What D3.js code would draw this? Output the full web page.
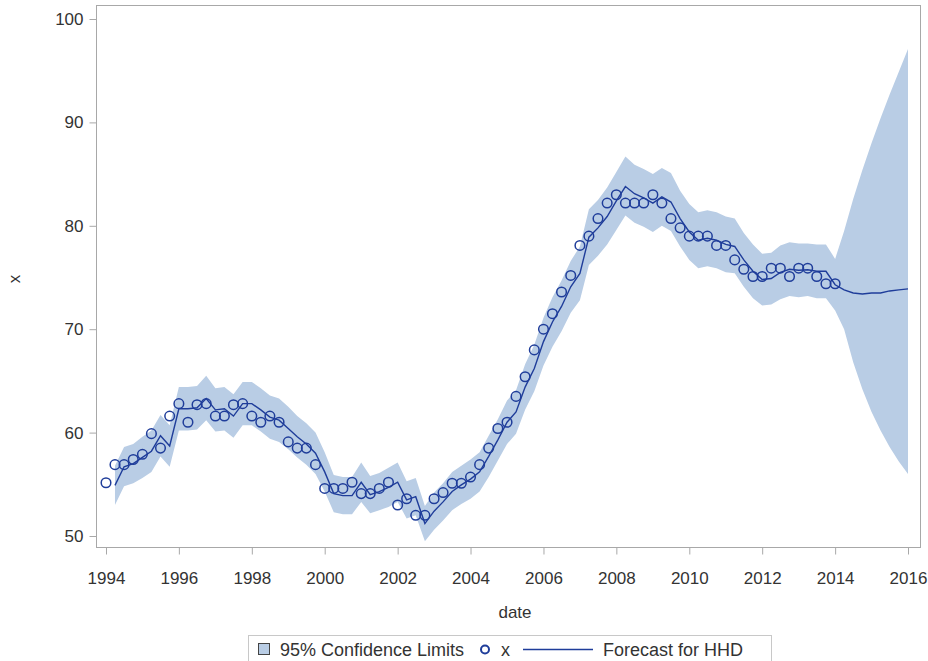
<!DOCTYPE html>
<html>
<head>
<meta charset="utf-8">
<script src="https://cdn.jsdelivr.net/npm/d3@7"></script>
<style>
  body { margin: 0; background: #fff; }
  text { font-family: "Liberation Sans", Arial, sans-serif; fill: #333; }
</style>
</head>
<body>
<svg id="chart" width="928" height="661"></svg>
<script>
// observed values, quarterly from 1994 Q1 to 2014 Q1
var actual = [
  55.15, 56.9, 56.9, 57.4, 57.9, 59.9, 58.5, 61.6, 62.8, 61.0,
  62.7, 62.8, 61.6, 61.6, 62.7, 62.8, 61.6, 61.0, 61.6, 61.0,
  59.1, 58.5, 58.5, 56.9, 54.6, 54.6, 54.6, 55.2, 54.1, 54.1,
  54.6, 55.2, 53.0, 53.6, 52.0, 52.0, 53.6, 54.2, 55.1, 55.1,
  55.7, 56.9, 58.5, 60.4, 61.0, 63.5, 65.4, 68.0, 70.0, 71.5,
  73.6, 75.2, 78.1, 79.0, 80.7, 82.2, 83.0, 82.2, 82.2, 82.2,
  83.0, 82.2, 80.7, 79.8, 79.0, 79.0, 79.0, 78.1, 78.1, 76.7,
  75.8, 75.1, 75.1, 75.9, 75.9, 75.1, 75.9, 75.9, 75.1, 74.4,
  74.4
];

// one-step forecast, 1994 Q2 to 2016 Q1
var forecast = [
  54.9, 56.7, 57.0, 57.6, 58.2, 59.7, 58.7, 62.3, 62.3, 62.4,
  63.3, 62.2, 62.3, 61.6, 62.8, 62.8, 62.2, 61.5, 61.2, 60.4,
  59.6, 58.9, 58.0, 56.2, 54.1, 53.9, 53.9, 55.2, 54.0, 54.3,
  54.7, 55.2, 53.5, 53.8, 51.2, 52.4, 53.3, 54.3, 54.95, 55.5,
  56.2, 57.7, 59.3, 61.0, 62.0, 64.4, 66.2, 68.8, 70.7, 72.2,
  74.1, 75.4, 78.9, 79.8, 80.9, 82.4, 83.8, 83.1, 82.7, 82.2,
  82.8, 82.3, 80.7, 79.4, 78.6, 78.8, 78.6, 78.2, 78.0, 76.7,
  75.6, 74.8, 74.9, 75.5, 75.8, 75.7, 75.75, 75.6, 75.6, 74.3,
  73.8, 73.5, 73.4, 73.5, 73.5, 73.7, 73.8, 73.9
];

// 95% limits, same dates as forecast
var upper = [
  56.8, 58.6, 58.9, 59.6, 60.2, 61.7, 60.7, 64.4, 64.4, 64.5,
  65.5, 64.3, 64.4, 63.7, 64.9, 64.9, 64.3, 63.6, 63.3, 62.5,
  61.6, 60.9, 60.0, 58.1, 55.9, 55.7, 55.7, 57.1, 55.8, 56.1,
  56.6, 57.1, 55.3, 55.6, 52.9, 54.2, 55.1, 56.2, 56.8, 57.4,
  58.1, 59.7, 61.3, 63.1, 64.1, 66.6, 68.5, 71.1, 73.1, 74.7,
  76.6, 78.0, 81.6, 82.5, 83.7, 85.2, 86.7, 85.9, 85.5, 85.0,
  85.6, 85.1, 83.4, 82.1, 81.3, 81.5, 81.3, 80.9, 80.7, 79.3,
  78.2, 77.3, 77.4, 78.1, 78.4, 78.3, 78.3, 78.2, 78.2, 76.8,
  79.5, 82.6, 85.4, 88.0, 90.4, 92.7, 94.9, 97.1
];
var lower = [
  53.0, 54.8, 55.1, 55.6, 56.2, 57.7, 56.7, 60.2, 60.2, 60.3,
  61.2, 60.1, 60.2, 59.5, 60.7, 60.7, 60.1, 59.4, 59.1, 58.4,
  57.6, 56.9, 56.0, 54.3, 52.3, 52.1, 52.1, 53.3, 52.2, 52.5,
  52.8, 53.3, 51.7, 52.0, 49.5, 50.6, 51.5, 52.5, 53.1, 53.6,
  54.3, 55.7, 57.3, 58.9, 59.9, 62.2, 64.0, 66.5, 68.3, 69.8,
  71.6, 72.8, 76.2, 77.1, 78.2, 79.6, 81.0, 80.3, 79.9, 79.4,
  80.0, 79.5, 78.0, 76.7, 75.9, 76.1, 75.9, 75.5, 75.4, 74.1,
  73.0, 72.3, 72.4, 72.9, 73.2, 73.1, 73.2, 73.0, 73.0, 71.8,
  70.0, 66.8, 64.2, 62.0, 60.2, 58.6, 57.2, 56.0
];

var yTicks = [50, 60, 70, 80, 90, 100];
var xTickYears = [1994, 1996, 1998, 2000, 2002, 2004, 2006, 2008, 2010, 2012, 2014, 2016];

function quarterDate(i) {
  return new Date(1994 + Math.floor(i / 4), (i % 4) * 3, 1);
}

var bandColor = "#b9cde5";
var lineColor = "#1f3d9a";

var svg = d3.select("#chart");

var x = d3.scaleTime()
  .domain([new Date(1994, 0, 1), new Date(2016, 0, 1)])
  .range([106, 908]);
var y = d3.scaleLinear()
  .domain([50, 100])
  .range([536, 19]);

var fc = forecast.map(function (v, i) {
  return { date: quarterDate(i + 1), f: v, hi: upper[i], lo: lower[i] };
});
var obs = actual.map(function (v, i) {
  return { date: quarterDate(i), v: v };
});

// confidence band
svg.append("path")
  .datum(fc)
  .attr("fill", bandColor)
  .attr("d", d3.area()
    .x(function (d) { return x(d.date); })
    .y0(function (d) { return y(d.lo); })
    .y1(function (d) { return y(d.hi); }));

// observed points
svg.append("g")
  .selectAll("circle")
  .data(obs)
  .enter().append("circle")
  .attr("cx", function (d) { return x(d.date); })
  .attr("cy", function (d) { return y(d.v); })
  .attr("r", 4.8)
  .attr("fill", "none")
  .attr("stroke", lineColor)
  .attr("stroke-width", 1.5);

// forecast line
svg.append("path")
  .datum(fc)
  .attr("fill", "none")
  .attr("stroke", lineColor)
  .attr("stroke-width", 1.4)
  .attr("d", d3.line()
    .x(function (d) { return x(d.date); })
    .y(function (d) { return y(d.f); }));

// frame
svg.append("rect")
  .attr("x", 96.5).attr("y", 5.5)
  .attr("width", 824).attr("height", 542)
  .attr("fill", "none")
  .attr("stroke", "#a8a8a8");

// axes
var yAxis = svg.append("g")
  .attr("transform", "translate(96.5,0)")
  .call(d3.axisLeft(y).tickValues(yTicks).tickSize(7).tickPadding(6));
var xAxis = svg.append("g")
  .attr("transform", "translate(0,547.5)")
  .call(d3.axisBottom(x)
    .tickValues(xTickYears.map(function (yr) { return new Date(yr, 0, 1); }))
    .tickFormat(d3.timeFormat("%Y"))
    .tickSize(7).tickPadding(17));

[yAxis, xAxis].forEach(function (ax) {
  ax.select(".domain").remove();
  ax.selectAll(".tick line").attr("stroke", "#a8a8a8");
  ax.selectAll(".tick text")
    .attr("fill", "#333")
    .style("font-size", "17px")
    .style("font-family", "'Liberation Sans', Arial, sans-serif");
});

// axis labels
svg.append("text")
  .attr("x", 515).attr("y", 618)
  .attr("text-anchor", "middle")
  .style("font-size", "17px")
  .text("date");
svg.append("text")
  .attr("transform", "translate(20,279) rotate(-90)")
  .attr("text-anchor", "middle")
  .style("font-size", "17px")
  .text("x");

// legend
var lg = svg.append("g");
lg.append("rect")
  .attr("x", 248.5).attr("y", 635.5)
  .attr("width", 523).attr("height", 30)
  .attr("fill", "#fff")
  .attr("stroke", "#c8c8c8");
lg.append("rect")
  .attr("x", 258.5).attr("y", 643.5)
  .attr("width", 11).attr("height", 11)
  .attr("fill", bandColor)
  .attr("stroke", "#444");
lg.append("text")
  .attr("x", 280).attr("y", 656)
  .style("font-size", "18px")
  .text("95% Confidence Limits");
lg.append("circle")
  .attr("cx", 485).attr("cy", 649.5).attr("r", 4)
  .attr("fill", "none")
  .attr("stroke", lineColor)
  .attr("stroke-width", 2);
lg.append("text")
  .attr("x", 501).attr("y", 656)
  .style("font-size", "18px")
  .text("x");
lg.append("line")
  .attr("x1", 523).attr("x2", 593)
  .attr("y1", 649.5).attr("y2", 649.5)
  .attr("stroke", lineColor)
  .attr("stroke-width", 1.4);
lg.append("text")
  .attr("x", 603).attr("y", 656)
  .style("font-size", "18px")
  .text("Forecast for HHD");
</script>
</body>
</html>
